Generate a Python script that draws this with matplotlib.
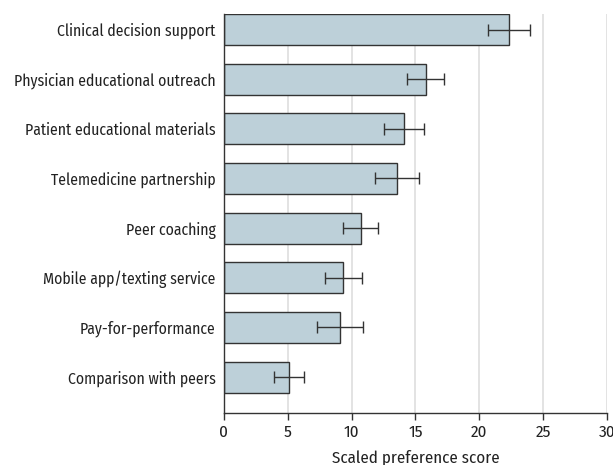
import matplotlib.pyplot as plt

strategies = [
    "Clinical decision support",
    "Physician educational outreach",
    "Patient educational materials",
    "Telemedicine partnership",
    "Peer coaching",
    "Mobile app/texting service",
    "Pay-for-performance",
    "Comparison with peers",
]
scores = [22.35, 15.8, 14.1, 13.55, 10.7, 9.35, 9.1, 5.1]
ci_low = [20.65, 14.35, 12.55, 11.8, 9.35, 7.95, 7.25, 3.95]
ci_high = [24.0, 17.25, 15.7, 15.3, 12.05, 10.8, 10.85, 6.3]

plt.rcParams["font.family"] = ["Fira Sans Condensed", "Roboto Condensed", "DejaVu Sans"]
plt.rcParams["font.size"] = 11.3

fig = plt.figure(figsize=(6.13, 4.65), dpi=100)
ax = fig.add_axes([0.3654, 0.1112, 0.6248, 0.8587])

ypos = list(range(len(strategies)))
xerr = [[s - lo for s, lo in zip(scores, ci_low)],
        [hi - s for s, hi in zip(scores, ci_high)]]

ax.barh(ypos, scores, height=0.625, color="#bdd0d9", edgecolor="#333333",
        linewidth=1.0, zorder=2)
ax.errorbar(scores, ypos, xerr=xerr, fmt="none", ecolor="#333333",
            elinewidth=1.0, capsize=4.3, capthick=1.0, zorder=3)

ax.set_ylim(7.73, -0.3125)
ax.set_xlim(0, 30)
ax.set_xticks([0, 5, 10, 15, 20, 25, 30])
ax.set_yticks(ypos)
ax.set_yticklabels(strategies, color="#222222")
ax.tick_params(axis="y", length=0, pad=6)
ax.tick_params(axis="x", length=5, width=1.0, color="#333333", pad=3,
               labelcolor="#222222", labelsize=12.3)
ax.xaxis.grid(True, color="#e0e0e0", linewidth=1.3, zorder=0)
ax.set_axisbelow(True)

for side in ["top", "right"]:
    ax.spines[side].set_visible(False)
for side in ["left", "bottom"]:
    ax.spines[side].set_color("#333333")
    ax.spines[side].set_linewidth(1.0)

ax.set_xlabel("Scaled preference score", fontsize=12.2, color="#222222", labelpad=7)

fig.savefig("out.png", dpi=100)
